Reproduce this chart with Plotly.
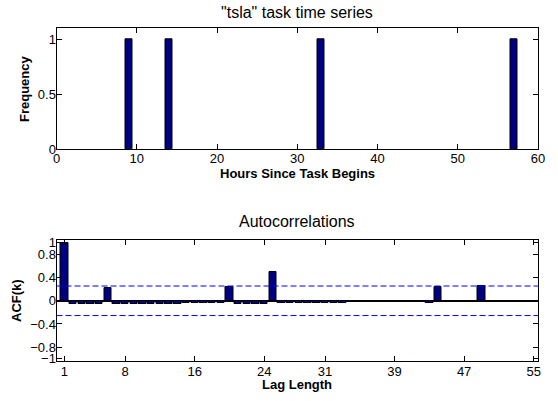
import plotly.graph_objects as go

# ---- data ----
hours = [9, 14, 33, 57]
freq = [1, 1, 1, 1]

lags = list(range(1, 56))
acf = [1.00, -0.05, -0.05, -0.05, -0.05, 0.22, -0.06, -0.06, -0.06, -0.05,
       -0.05, -0.05, -0.05, -0.05, -0.04, -0.04, -0.04, -0.04, -0.04, 0.23,
       -0.05, -0.05, -0.05, -0.05, 0.50, -0.03, -0.03, -0.03, -0.03, -0.03,
       -0.03, -0.03, -0.04, -0.02, -0.02, -0.02, -0.02, -0.02, -0.02, -0.02,
       -0.02, -0.02, -0.03, 0.24, -0.02, -0.02, -0.02, -0.02, 0.26, -0.01,
       -0.01, -0.01, -0.01, -0.01, -0.01]
conf = 0.255

top_xticks = [0, 10, 20, 30, 40, 50, 60]
top_yticks = [0, 0.5, 1]
top_yticklabels = ["0", "0.5", "1"]
bot_xticks = [1, 8, 16, 24, 31, 39, 47, 55]
bot_yticks = [-1, -0.8, -0.4, 0, 0.4, 0.8, 1]
bot_yticklabels = ["\u22121", "\u22120.8", "\u22120.4", "0", "0.4", "0.8", "1"]

title_top = '"tsla" task time series'
title_bot = "Autocorrelations"
xlabel_top = "Hours Since Task Begins"
ylabel_top = "Frequency"
xlabel_bot = "Lag Length"
ylabel_bot = "ACF(k)"

FONT = "Liberation Sans, Arial, Helvetica, sans-serif"
BAR = "#000080"

W, H = 558, 401


def px(X):
    return X / W


def py(Y):
    return 1 - Y / H


fig = go.Figure()
fig.add_trace(go.Bar(x=hours, y=freq, width=0.85,
                     marker=dict(color=BAR, line=dict(color="black", width=1)),
                     xaxis="x", yaxis="y", showlegend=False))
fig.add_trace(go.Bar(x=lags, y=acf, width=0.85,
                     marker=dict(color=BAR, line=dict(color="black", width=1)),
                     xaxis="x2", yaxis="y2", showlegend=False))
for c in (conf, -conf):
    fig.add_trace(go.Scatter(x=[0.1, 55.5], y=[c, c], mode="lines",
                             line=dict(color="#0000ff", width=1, dash="6px,3px"),
                             xaxis="x2", yaxis="y2", showlegend=False, hoverinfo="skip"))

axcommon = dict(showline=True, linecolor="black", linewidth=1, mirror="ticks",
                ticks="inside", ticklen=5, tickcolor="black", showgrid=False,
                automargin=False,
                tickfont=dict(family=FONT, size=13, color="black"))
xd = [px(56.5), px(538)]
fig.update_layout(
    width=W, height=H, margin=dict(l=0, r=0, t=0, b=0),
    plot_bgcolor="white", paper_bgcolor="white", bargap=0,
    font=dict(family=FONT, color="black"),
    xaxis=dict(domain=xd, range=[0, 60], tickvals=top_xticks, anchor="y",
               zeroline=False, ticklabelstandoff=-3, **axcommon),
    yaxis=dict(domain=[py(149), py(28.3)], range=[0, 1.1], anchor="x",
               tickvals=top_yticks, ticktext=top_yticklabels, zeroline=False,
               ticklabelstandoff=-3, **axcommon),
    xaxis2=dict(domain=xd, range=[0.1, 55.5], tickvals=bot_xticks, anchor="y2",
                zeroline=False, ticklabelstandoff=-2, **axcommon),
    yaxis2=dict(domain=[py(361), py(240)], range=[-1.04, 1.05], anchor="x2",
                tickvals=bot_yticks, ticktext=bot_yticklabels,
                zeroline=True, zerolinecolor="black", zerolinewidth=1.5,
                ticklabelstandoff=-3, **axcommon),
    annotations=[
        dict(text=title_top, x=(xd[0] + xd[1]) / 2, y=py(12), xref="paper", yref="paper",
             showarrow=False, font=dict(size=16, family=FONT), yanchor="middle"),
        dict(text=title_bot, x=(xd[0] + xd[1]) / 2, y=py(221), xref="paper", yref="paper",
             showarrow=False, font=dict(size=16, family=FONT), yanchor="middle"),
        dict(text="<b>%s</b>" % xlabel_top, x=(xd[0] + xd[1]) / 2, y=py(173), xref="paper",
             yref="paper", showarrow=False, font=dict(size=13, family=FONT), yanchor="middle"),
        dict(text="<b>%s</b>" % xlabel_bot, x=(xd[0] + xd[1]) / 2, y=py(384), xref="paper",
             yref="paper", showarrow=False, font=dict(size=13, family=FONT), yanchor="middle"),
        dict(text="<b>%s</b>" % ylabel_top, x=px(24), y=py(89), xref="paper", yref="paper",
             showarrow=False, textangle=-90, font=dict(size=13, family=FONT),
             xanchor="center", yanchor="middle"),
        dict(text="<b>%s</b>" % ylabel_bot, x=px(16), y=py(301), xref="paper", yref="paper",
             showarrow=False, textangle=-90, font=dict(size=13, family=FONT),
             xanchor="center", yanchor="middle"),
    ],
)
fig.write_html("out.html", config={"displayModeBar": False},
               post_script="document.body.style.margin='0';document.body.style.overflow='hidden';")
